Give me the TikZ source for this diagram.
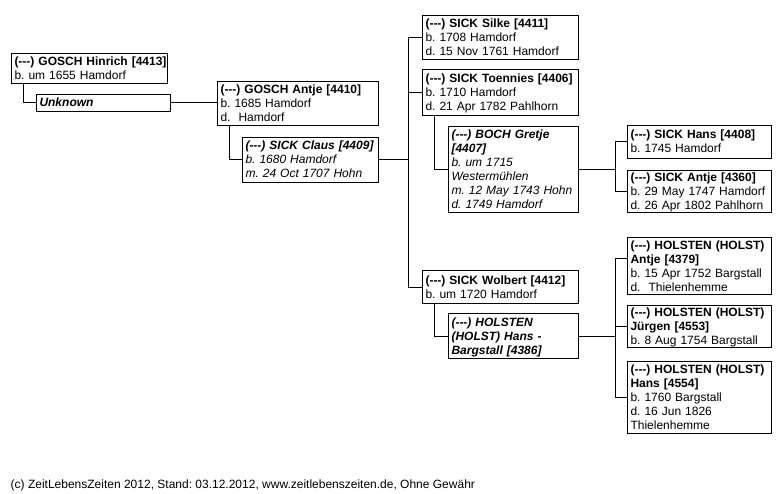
\documentclass[tikz,border=0pt]{standalone}
\usepackage{fontspec}
\setmainfont{Liberation Sans}
\frenchspacing
\newcommand\Dsh{(-\kern0pt-\kern0pt-)}
\newcommand\Li[1]{\mbox{#1}}
\newcommand\Sx{\rule[-3pt]{0pt}{14pt}}
\begin{document}
\begin{tikzpicture}[x=1pt,y=-1pt,
  box/.style={draw, line width=1pt, anchor=north west, inner xsep=3pt, inner ysep=0pt,
    outer sep=0pt, align=left, font=\fontsize{12}{14}\selectfont},
  itbox/.style={box, font=\fontsize{12}{14}\selectfont\itshape},
  conn/.style={line width=1pt},
]
\useasboundingbox (-0.5,-0.5) rectangle (782.5,493.5);

% generation 1
\node[box, text width=150pt, minimum height=30pt] (hinrich) at (11,53)
  {\Sx\Li{\textbf{\Dsh{} GOSCH Hinrich [4413]}}\\\Li{b. um 1655 Hamdorf}\Sx};
\node[box, text width=128pt, minimum height=17pt] (unknown) at (36,94)
  {\Sx\Li{\textbf{\textit{Unknown}}}\Sx};

% generation 2
\node[box, text width=155pt, minimum height=44pt] (antje) at (217,81)
  {\Sx\Li{\textbf{\Dsh{} GOSCH Antje [4410]}}\\\Li{b. 1685 Hamdorf}\\\Li{d.\ \ Hamdorf}\Sx};
\node[itbox, text width=130pt, minimum height=45pt] (claus) at (242,137)
  {\Sx\Li{\textbf{\Dsh{} SICK Claus [4409]}}\\\Li{b. 1680 Hamdorf}\\\Li{m. 24 Oct 1707 Hohn}\Sx};

% generation 3
\node[box, text width=150pt, minimum height=44pt] (silke) at (422,15)
  {\Sx\Li{\textbf{\Dsh{} SICK Silke [4411]}}\\\Li{b. 1708 Hamdorf}\\\Li{d. 15 Nov 1761 Hamdorf}\Sx};
\node[box, text width=150pt, minimum height=46pt] (toennies) at (422,69)
  {\Sx\Li{\textbf{\Dsh{} SICK Toennies [4406]}}\\\Li{b. 1710 Hamdorf}\\\Li{d. 21 Apr 1782 Pahlhorn}\Sx};
\node[itbox, text width=124pt, minimum height=86pt] (boch) at (448,126)
  {\Sx\Li{\textbf{\Dsh{} BOCH Gretje}}\\\Li{\textbf{[4407]}}\\\Li{b. um 1715}\\\Li{Westermühlen}\\\Li{m. 12 May 1743 Hohn}\\\Li{d. 1749 Hamdorf}\Sx};
\node[box, text width=150pt, minimum height=33pt] (wolbert) at (422,270)
  {\Sx\Li{\textbf{\Dsh{} SICK Wolbert [4412]}}\\\Li{b. um 1720 Hamdorf}\Sx};
\node[itbox, text width=124pt, minimum height=45pt] (holstenhans) at (448,313)
  {\Sx\Li{\textbf{\Dsh{} HOLSTEN}}\\\Li{\textbf{(HOLST) Hans -}}\\\Li{\textbf{Bargstall [4386]}}\Sx};

% generation 4
\node[box, text width=138pt, minimum height=33pt] (hans) at (627,125)
  {\Sx\Li{\textbf{\Dsh{} SICK Hans [4408]}}\\\Li{b. 1745 Hamdorf}\Sx};
\node[box, text width=138pt, minimum height=42pt] (santje) at (627,170)
  {\Sx\Li{\textbf{\Dsh{} SICK Antje [4360]}}\\\Li{b. 29 May 1747 Hamdorf}\\\Li{d. 26 Apr 1802 Pahlhorn}\Sx};
\node[box, text width=138pt, minimum height=57pt] (hantje) at (627,237)
  {\Sx\Li{\textbf{\Dsh{} HOLSTEN (HOLST)}}\\\Li{\textbf{Antje [4379]}}\\\Li{b. 15 Apr 1752 Bargstall}\\\Li{d.\ \ Thielenhemme}\Sx};
\node[box, text width=138pt, minimum height=42pt] (juergen) at (627,305)
  {\Sx\Li{\textbf{\Dsh{} HOLSTEN (HOLST)}}\\\Li{\textbf{Jürgen [4553]}}\\\Li{b. 8 Aug 1754 Bargstall}\Sx};
\node[box, text width=138pt, minimum height=72pt] (hhans) at (627,361)
  {\Sx\Li{\textbf{\Dsh{} HOLSTEN (HOLST)}}\\\Li{\textbf{Hans [4554]}}\\\Li{b. 1760 Bargstall}\\\Li{d. 16 Jun 1826}\\\Li{Thielenhemme}\Sx};

% trunk coordinates
\coordinate (tx) at (408,0);
\coordinate (rx) at (615,0);

% connectors
\draw[conn] ([xshift=12pt]hinrich.south west) |- (unknown.west);
\draw[conn] (unknown.east) -- (unknown.east -| antje.west);
\draw[conn] ([xshift=12pt]antje.south west) |- (claus.west);
\draw[conn] (claus.east) -- (claus.east -| tx);
\draw[conn] (silke.west) -| (tx |- wolbert.west) -- (wolbert.west);
\draw[conn] (toennies.west -| tx) -- (toennies.west);
\draw[conn] ([xshift=12pt]toennies.south west) |- (boch.west);
\draw[conn] (boch.east) -- (boch.east -| rx);
\draw[conn] (hans.west) -| (rx |- santje.west) -- (santje.west);
\draw[conn] ([xshift=12pt]wolbert.south west) |- (holstenhans.west);
\draw[conn] (holstenhans.east) -- (holstenhans.east -| rx);
\draw[conn] ([yshift=7.5pt]hantje.west) -| (rx |- hhans.west) -- (hhans.west);
\draw[conn] (juergen.west -| rx) -- (juergen.west);

% footer
\node[anchor=base west, inner sep=0pt, font=\fontsize{12}{14}\selectfont] (footer) at (10,488)
  {(c) ZeitLebensZeiten 2012, Stand: 03.12.2012, www.zeitlebenszeiten.de, Ohne Gewähr};
\end{tikzpicture}
\end{document}
